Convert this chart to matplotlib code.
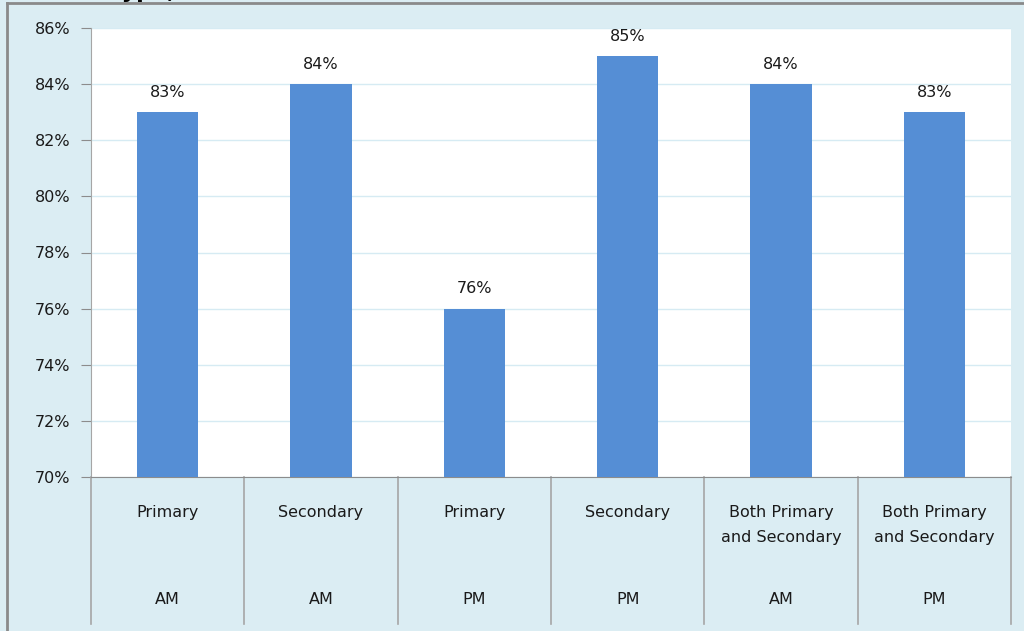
import numpy as np
import matplotlib.pyplot as plt
from matplotlib.lines import Line2D

school = ['Primary', 'Secondary', 'Primary', 'Secondary',
          'Both Primary\nand Secondary', 'Both Primary\nand Secondary']
session = ['AM', 'AM', 'PM', 'PM', 'AM', 'PM']
values = [83, 84, 76, 85, 84, 83]

plt.rcParams['font.family'] = ['DejaVu Sans']

bg = '#dbedf3'
fig = plt.figure(figsize=(10.24, 6.31), dpi=100, facecolor=bg)
W, H = 1024, 631

ax = fig.add_axes((91 / W, 1 - 477 / H, 920 / W, 449 / H))
ax.set_facecolor('white')

x = np.arange(len(values))
ax.bar(x, [v - 70 for v in values], bottom=70, width=0.4, color='#558ed5', zorder=3)

for xi, v in zip(x, values):
    ax.annotate(f'{v}%', (xi, v), xytext=(0, 9), textcoords='offset points',
                ha='center', va='bottom', fontsize=11.5, color='#1a1a1a')

ax.set_xlim(-0.5, len(values) - 0.5)
ax.set_ylim(70, 86)
ax.set_yticks(np.arange(70, 87, 2))
ax.set_yticklabels([f'{t}%' for t in range(70, 87, 2)], fontsize=11.5, color='#1a1a1a')
ax.tick_params(axis='y', length=7, color='#8c8c8c', pad=8)
ax.set_xticks([])
ax.yaxis.grid(True, color='#d6ebf3', lw=1, zorder=0)

for s in ['top', 'right']:
    ax.spines[s].set_visible(False)
ax.spines['left'].set_color('#a6a6a6')
ax.spines['bottom'].set_color('#8c8c8c')

# category separators and labels below the axis
px = 16 / 449  # data units per pixel
sep_bottom = -(624 - 477) / 449
for i in range(len(values) + 1):
    ax.add_line(Line2D([i / len(values)] * 2, [0, sep_bottom], transform=ax.transAxes,
                       color='#a6a6a6', lw=1.2, clip_on=False))
for xi, s, t in zip(x, school, session):
    ax.text(xi, 70 - px * (505 - 477), s, ha='center', va='top',
            fontsize=11.5, color='#1a1a1a', linespacing=1.85)
    ax.text(xi, 70 - px * (600 - 477), t, ha='center', va='center',
            fontsize=11.5, color='#1a1a1a')

# outer frame (partially visible)
fig.add_artist(Line2D([7 / W, 1], [1 - 3 / H] * 2, color='#8a8a8a', lw=2))
fig.add_artist(Line2D([7 / W] * 2, [0, 1 - 3 / H], color='#8a8a8a', lw=2))

# title mostly cut off above the figure
fig.text(110 / W, 1 + 2 / H, 'Type,', fontsize=16, fontweight='bold', va='baseline')

fig.savefig('out.png', dpi=100, facecolor=bg)
